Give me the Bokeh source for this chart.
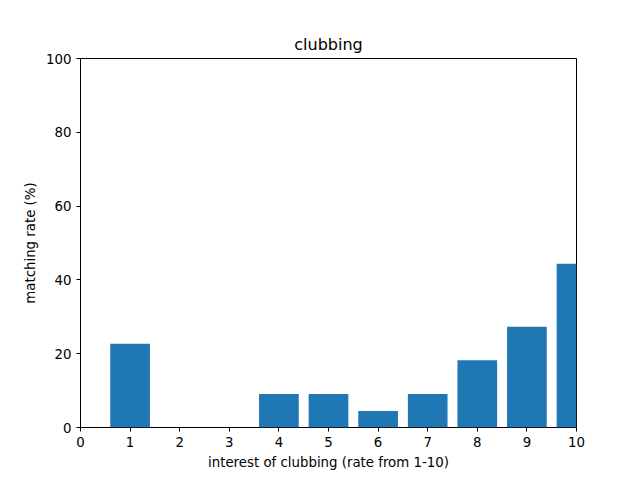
from bokeh.plotting import figure
from bokeh.models import Range1d, FixedTicker
from bokeh.embed import file_html
from bokeh.resources import INLINE

ratings = [1, 2, 3, 4, 5, 6, 7, 8, 9, 10]
match_rate = [22.7, 0, 0, 9.1, 9.1, 4.5, 9.1, 18.2, 27.3, 44.4]

p = figure(width=640, height=480, output_backend="svg", toolbar_location=None,
           x_range=Range1d(0, 10), y_range=Range1d(0, 100),
           title="clubbing", min_border_left=80, min_border_right=64,
           min_border_top=58, min_border_bottom=53)
p.vbar(x=ratings, top=match_rate, width=0.8, fill_color="#1f77b4", line_color=None)

p.title.align = "center"
p.title.text_font = "DejaVu Sans"
p.title.text_font_size = "12pt"
p.title.text_font_style = "normal"
p.title.text_color = "black"
p.xaxis.axis_label = "interest of clubbing (rate from 1-10)"
p.yaxis.axis_label = "matching rate (%)"
p.xaxis.ticker = FixedTicker(ticks=list(range(0, 11)))
p.yaxis.ticker = FixedTicker(ticks=[0, 20, 40, 60, 80, 100])
for ax in (p.xaxis, p.yaxis):
    ax.axis_label_text_font = "DejaVu Sans"
    ax.axis_label_text_font_style = "normal"
    ax.axis_label_text_font_size = "10pt"
    ax.axis_label_text_color = "black"
    ax.major_label_text_font = "DejaVu Sans"
    ax.major_label_text_font_size = "10pt"
    ax.major_label_text_color = "black"
    ax.minor_tick_line_color = None
    ax.major_tick_line_color = "black"
    ax.major_tick_in = 0
    ax.major_tick_out = 4
    ax.axis_line_color = None
p.xgrid.grid_line_color = None
p.ygrid.grid_line_color = None
p.outline_line_color = "black"
p.outline_line_alpha = 1

open("out.html", "w").write(file_html(p, INLINE))
